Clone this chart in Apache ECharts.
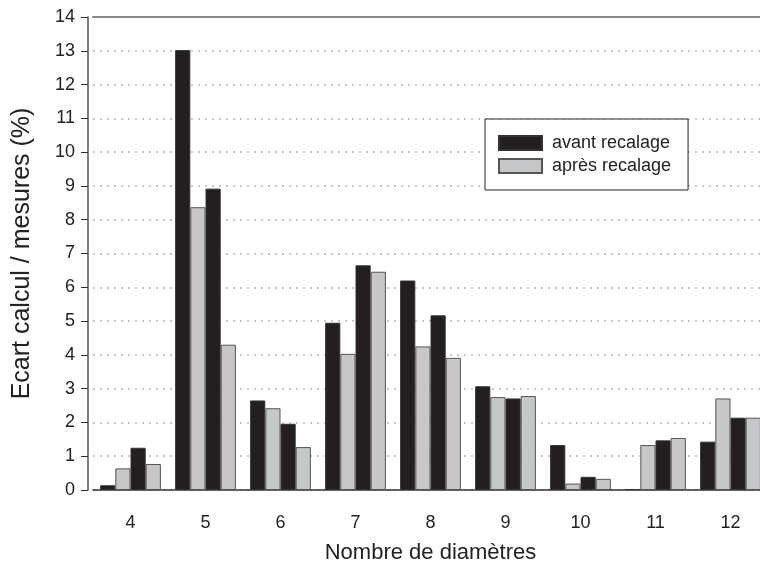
<!DOCTYPE html>
<html lang="fr">
<head>
    <meta charset="UTF-8">
    <title>Ecart calcul / mesures</title>
    <script src="https://cdn.jsdelivr.net/npm/echarts@6/dist/echarts.min.js"></script>
    <style>
        html, body { margin: 0; padding: 0; background: #fff; overflow: hidden; }
        /* un peu plus large que la fenêtre : le dernier groupe est coupé à droite */
        #chart { width: 770px; height: 569px; }
    </style>
</head>
<body>
<div id="chart"></div>
<script type="text/javascript">
    // nombre de diamètres
    var categories = ['4', '5', '6', '7', '8', '9', '10', '11', '12'];
    // deux séries avant / après recalage par catégorie
    var avant1 = [0.14, 13.02, 2.65, 4.95, 6.20, 3.07, 1.33, 0.03, 1.43];
    var apres1 = [0.64, 8.37, 2.42, 4.03, 4.25, 2.75, 0.19, 1.33, 2.71];
    var avant2 = [1.25, 8.92, 1.96, 6.65, 5.17, 2.71, 0.39, 1.47, 2.14];
    var apres2 = [0.77, 4.30, 1.27, 6.46, 3.91, 2.78, 0.33, 1.54, 2.14];
    var yTicks = { min: 0, max: 14, interval: 1 };

    var font = 'Liberation Sans, Arial, sans-serif';
    var darkStyle = { color: '#231f20', borderColor: '#333', borderWidth: 1 };
    var lightStyle = { color: '#c6c7c9', borderColor: '#555', borderWidth: 1 };

    function bar(name, data, style) {
        return {
            name: name,
            type: 'bar',
            data: data,
            barGap: '0%',
            barCategoryGap: '19%',
            itemStyle: style,
            emphasis: { disabled: true }
        };
    }

    var myChart = echarts.init(document.getElementById('chart'));
    var option = {
        animation: false,
        textStyle: { fontFamily: font, color: '#222' },
        grid: { left: 93, width: 675, top: 17, bottom: 79 },
        legend: {
            data: ['avant recalage', 'après recalage'],
            orient: 'vertical',
            left: 485,
            top: 119,
            itemWidth: 43,
            itemHeight: 14,
            itemGap: 5,
            padding: [15, 17, 15, 13],
            borderColor: '#222',
            borderWidth: 1,
            icon: 'rect',
            textStyle: { fontSize: 18, color: '#222', fontFamily: font, padding: [0, 0, 0, 5] },
            backgroundColor: '#fff'
        },
        xAxis: [
            {
                type: 'category',
                data: categories,
                name: 'Nombre de diamètres',
                nameLocation: 'middle',
                nameGap: 52,
                nameTextStyle: { fontSize: 22, color: '#222' },
                axisLine: { lineStyle: { color: '#333', width: 1.5 } },
                axisTick: { alignWithLabel: true, length: 7, lineStyle: { color: '#333' } },
                axisLabel: { fontSize: 18, color: '#222', margin: 24 }
            },
            {
                type: 'category',
                data: categories,
                position: 'top',
                axisLine: { lineStyle: { color: '#888', width: 2 } },
                axisTick: { show: false },
                axisLabel: { show: false }
            }
        ],
        yAxis: {
            type: 'value',
            min: yTicks.min,
            max: yTicks.max,
            interval: yTicks.interval,
            offset: 5,
            name: 'Ecart calcul / mesures (%)',
            nameLocation: 'middle',
            nameGap: 53,
            nameTextStyle: { fontSize: 25, color: '#222' },
            axisLine: { show: true, lineStyle: { color: '#555', width: 1.5 } },
            axisTick: { show: true, length: 7, lineStyle: { color: '#333' } },
            axisLabel: { fontSize: 18, color: '#222', margin: 13 },
            splitLine: { lineStyle: { color: '#b8b8b8', type: [2, 5], width: 1.5 } }
        },
        series: [
            bar('avant recalage', avant1, darkStyle),
            bar('après recalage', apres1, lightStyle),
            bar('avant recalage', avant2, darkStyle),
            bar('après recalage', apres2, lightStyle)
        ]
    };
    myChart.setOption(option);
</script>
</body>
</html>
